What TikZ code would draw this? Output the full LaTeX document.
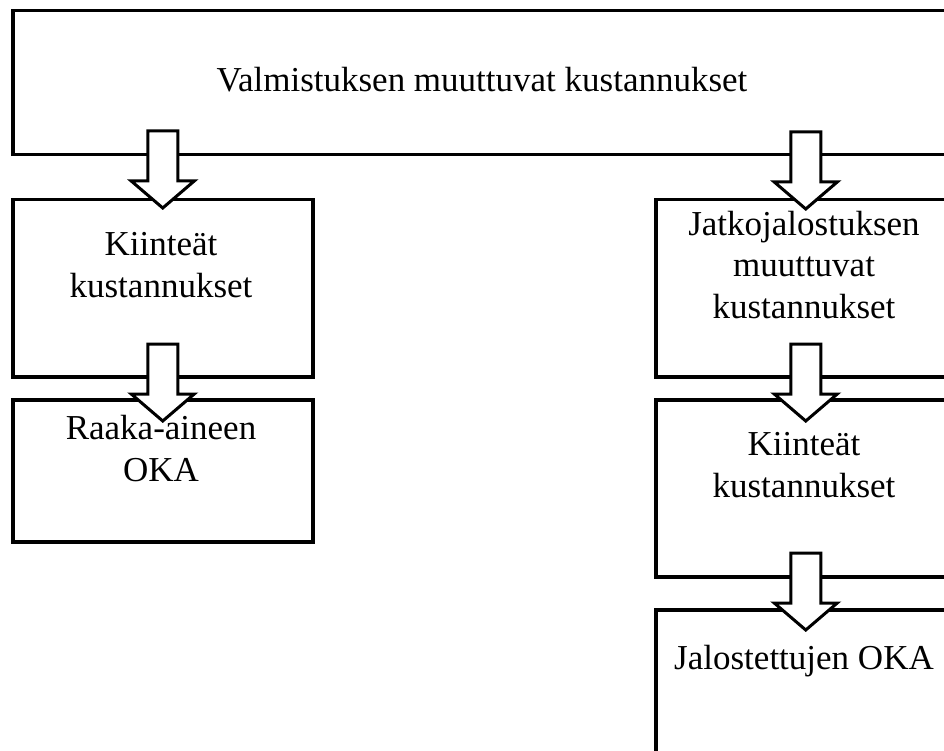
\documentclass[tikz,border=0pt]{standalone}
\usepackage{fontspec}
\setmainfont{Liberation Serif}
\usetikzlibrary{calc}

% Hollow block arrow: tip placed #2 below the north side of node #1
\newcommand\flowarrow[3]{%
  \draw[blk] ($(#1.north)+(0,#2)$) coordinate (#3)
    -- ++(31.5,-27) -- ++(-16.5,0) -- ++(0,-50) -- ++(-30,0)
    -- ++(0,50) -- ++(-16.5,0) -- cycle;}

\begin{document}
\begin{tikzpicture}[x=1pt,y=-1pt,
  box/.style={draw=black,line width=3.5pt,rectangle,inner sep=0pt,anchor=north west},
  lbl/.style={font=\fontsize{35}{41.5}\selectfont,align=center,inner sep=0pt,anchor=base},
  blk/.style={draw=black,line width=3pt,fill=white,line join=miter}]
\path[use as bounding box] (0,0) rectangle (944,751);
\clip (0,0) rectangle (944,751);

% boxes
\node[box,minimum width=943pt,minimum height=144pt] (top) at (11,9) {};
\node[box,minimum width=300pt,minimum height=177pt] (lk) at (11,198) {};
\node[box,minimum width=300pt,minimum height=142pt] (lo) at (11,398) {};
\node[box,minimum width=300pt,minimum height=177pt] (rj) at (654,198) {};
\node[box,minimum width=300pt,minimum height=177pt] (rk) at (654,398) {};
\node[box,minimum width=300pt,minimum height=177pt] (rt) at (654,608) {};

% labels (base anchor sits on the last line)
\node[lbl] (ttop) at (482,92) {Valmistuksen muuttuvat kustannukset};
\node[lbl] (tlk) at (161,297) {Kiinteät\\kustannukset};
\node[lbl] (tlo) at (161,481) {Raaka-aineen\\OKA};
\node[lbl] (trj) at (804,318) {Jatkojalostuksen\\muuttuvat\\kustannukset};
\node[lbl] (trk) at (804,497) {Kiinteät\\kustannukset};
\node[lbl] (trt) at (804,669) {Jalostettujen OKA};

% arrows between the boxes
\begin{scope}[xshift=1pt]
\flowarrow{lk}{10}{a1}
\end{scope}
\flowarrow{rj}{11}{a2}
\flowarrow{lo}{23}{a3}
\flowarrow{rk}{23}{a4}
\flowarrow{rt}{22}{a5}
\end{tikzpicture}
\end{document}
